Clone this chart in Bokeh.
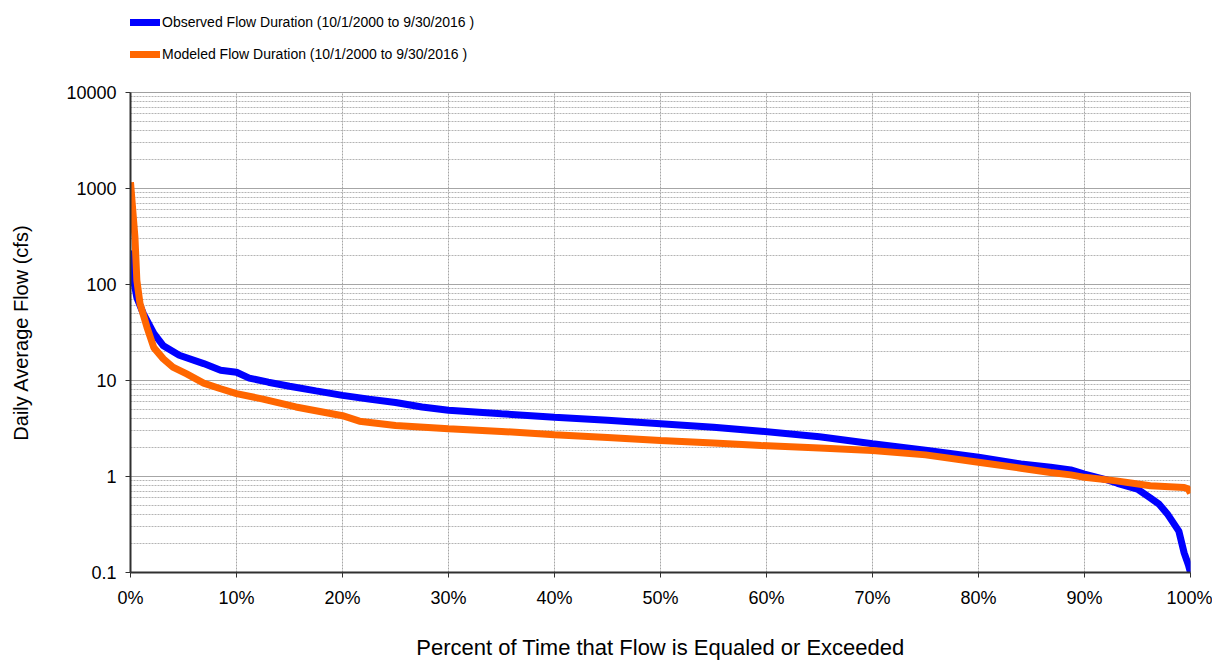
from bokeh.plotting import figure
from bokeh.layouts import column
from bokeh.models import (FixedTicker, CustomJSTickFormatter, Legend, LegendItem,
                          Range1d, ColumnDataSource)
from bokeh.embed import file_html
from bokeh.resources import INLINE

# ---- data ----
obs_pct = [0, 0.3, 0.6, 1.2, 2.2, 3.1, 4.6, 6.9, 8.5, 10, 11.2, 13, 15, 17.5, 20,
           22.5, 25, 27.5, 30, 35, 40, 45, 50, 55, 59.5, 65, 70, 75, 80, 84,
           86.8, 88.7, 90, 92, 93.1, 95, 96.2, 97, 97.8, 98.9, 99.4, 99.8, 100]
obs_cfs = [226, 110, 73, 50, 31, 23, 18.3, 15, 12.8, 12.2, 10.6, 9.6, 8.7, 7.8, 7.0,
           6.4, 5.9, 5.3, 4.9, 4.5, 4.15, 3.85, 3.54, 3.25, 2.96, 2.6, 2.19, 1.88, 1.59, 1.35,
           1.25, 1.17, 1.06, 0.93, 0.85, 0.74, 0.6, 0.52, 0.41, 0.27, 0.16, 0.12, 0.1]

mod_pct = [0, 0.42, 0.6, 0.9, 1.55, 2.2, 3.1, 4, 5.3, 6.9, 8.5, 10, 12.5, 15.6, 20,
           21.6, 25, 30, 35, 40, 45, 50, 55, 59.5, 65, 70, 75, 80, 84, 86.8,
           88.7, 90, 93, 96.2, 99.4, 99.8, 100]
mod_cfs = [1164, 310, 110, 63, 36, 22, 16.8, 13.8, 11.7, 9.4, 8.2, 7.3, 6.4, 5.3, 4.3,
           3.77, 3.4, 3.15, 2.95, 2.72, 2.55, 2.37, 2.23, 2.1, 1.98, 1.87, 1.68, 1.41, 1.22, 1.1,
           1.04, 0.98, 0.9, 0.8, 0.77, 0.74, 0.67]

series_names = ["Observed Flow Duration (10/1/2000 to 9/30/2016 )",
                "Modeled Flow Duration (10/1/2000 to 9/30/2016 )"]
series_colors = ["#0000ff", "#ff6600"]
x_ticks = [0, 10, 20, 30, 40, 50, 60, 70, 80, 90, 100]
y_ticks = [0.1, 1, 10, 100, 1000, 10000]

FONT = "Liberation Sans"
W = 1212
LEG_H = 84

src_o = ColumnDataSource(dict(x=obs_pct, y=obs_cfs))
src_m = ColumnDataSource(dict(x=mod_pct, y=mod_cfs))

# ---- legend strip (separate figure above the chart) ----
leg = figure(width=W, height=LEG_H, x_axis_type=None, y_axis_type=None,
             x_range=Range1d(1000, 1001), y_range=Range1d(1000, 1001),
             output_backend="svg", toolbar_location=None,
             min_border=0, outline_line_color=None)
lo = leg.line("x", "y", source=src_o, line_color=series_colors[0], line_width=7)
lm = leg.line("x", "y", source=src_m, line_color=series_colors[1], line_width=7)
legend = Legend(items=[LegendItem(label=series_names[0], renderers=[lo]),
                       LegendItem(label=series_names[1], renderers=[lm])],
                location=(-3, 20), orientation="vertical",
                padding=0, margin=0, spacing=12,
                glyph_width=33, glyph_height=20, label_height=20,
                label_standoff=2,
                label_text_font=FONT, label_text_font_size="14px",
                label_text_color="#000000",
                border_line_alpha=0, background_fill_alpha=0)
leg.add_layout(legend, "center")

# ---- main chart ----
p = figure(width=W, height=662 - LEG_H, y_axis_type="log",
           x_range=Range1d(0, 100), y_range=Range1d(0.1, 10000),
           output_backend="svg", toolbar_location=None,
           min_border_left=130, min_border_right=22, min_border_top=8,
           min_border_bottom=88)

minor = []
for d in [0.1, 1, 10, 100, 1000]:
    minor += [d * k for k in range(2, 10)]

p.yaxis.ticker = FixedTicker(ticks=y_ticks, minor_ticks=minor)
p.yaxis.formatter = CustomJSTickFormatter(
    code="return tick < 1 ? tick.toFixed(1) : tick.toFixed(0);")
p.xaxis.ticker = FixedTicker(ticks=x_ticks)
p.xaxis.formatter = CustomJSTickFormatter(code="return tick.toFixed(0) + '%';")

p.ygrid.grid_line_color = "#a6a6a6"
p.ygrid.grid_line_width = 1
p.ygrid.minor_grid_line_color = "#b4b4b4"
p.ygrid.minor_grid_line_dash = "2 1"
p.ygrid.minor_grid_line_width = 1
p.xgrid.grid_line_color = "#a6a6a6"
p.xgrid.grid_line_dash = "2 1"
p.xgrid.grid_line_width = 1

p.outline_line_color = "#a0a0a0"
p.outline_line_width = 1

for ax in (p.xaxis, p.yaxis):
    ax.axis_line_color = "#303030"
    ax.axis_line_width = 2
    ax.major_tick_line_color = "#303030"
    ax.major_tick_line_width = 1
    ax.major_tick_out = 5
    ax.major_tick_in = 0
    ax.minor_tick_out = 0
    ax.minor_tick_in = 0
    ax.major_label_text_font = FONT
    ax.major_label_text_font_size = "18px"
    ax.major_label_text_color = "#000000"
    ax.axis_label_text_font = FONT
    ax.axis_label_text_font_style = "normal"
    ax.axis_label_text_color = "#000000"

p.xaxis.major_label_standoff = 10
p.xaxis.axis_label = "Percent of Time that Flow is Equaled or Exceeded"
p.xaxis.axis_label_text_font_size = "22px"
p.xaxis.axis_label_standoff = 24
p.yaxis.major_label_standoff = 9
p.yaxis.axis_label = "Daily Average Flow (cfs)"
p.yaxis.axis_label_text_font_size = "20px"
p.yaxis.axis_label_standoff = 31

p.line("x", "y", source=src_o, line_color=series_colors[0], line_width=7)
p.line("x", "y", source=src_m, line_color=series_colors[1], line_width=7)

layout = column(leg, p, spacing=0)
open("out.html", "w").write(file_html(layout, INLINE))
